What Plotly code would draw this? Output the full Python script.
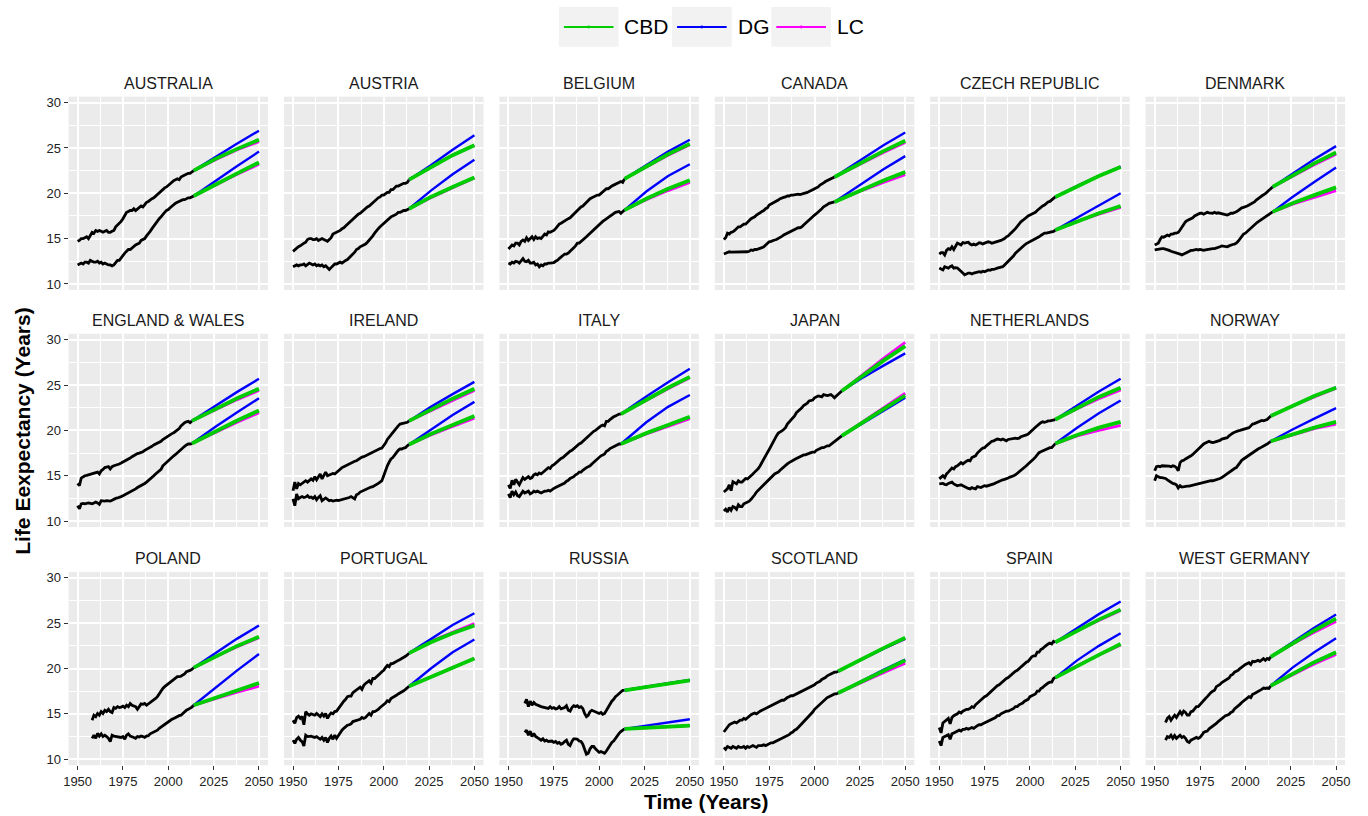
import plotly.graph_objects as go

# ---------------- data ----------------
COUNTRIES = ["AUSTRALIA", "AUSTRIA", "BELGIUM", "CANADA", "CZECH REPUBLIC", "DENMARK",
             "ENGLAND & WALES", "IRELAND", "ITALY", "JAPAN", "NETHERLANDS", "NORWAY",
             "POLAND", "PORTUGAL", "RUSSIA", "SCOTLAND", "SPAIN", "WEST GERMANY"]
FIRST_YEAR = [1950, 1950, 1950, 1950, 1950, 1950, 1950, 1950, 1950, 1950, 1950, 1950,
              1958, 1950, 1959, 1950, 1950, 1956]
FORECAST_YEARS = [2026, 2038, 2050]  # forecast starts at the last observed year

AUS_F = [14.7, 14.8, 15.0, 15.0, 15.1, 15.2, 15.0, 15.4, 15.7, 15.6,
         15.9, 15.8, 15.9, 15.8, 15.7, 15.8, 15.9, 15.7, 15.7, 15.8,
         15.9, 16.3, 16.5, 16.6, 16.9, 17.2, 17.5, 17.9, 18.0, 18.1,
         18.1, 18.3, 18.1, 18.3, 18.4, 18.6, 18.5, 18.8, 19.0, 19.1,
         19.3, 19.4, 19.5, 19.7, 19.8, 20.0, 20.2, 20.4, 20.6, 20.7,
         20.9, 21.0, 21.2, 21.4, 21.5, 21.6, 21.5, 21.8, 21.9, 22.0,
         22.1, 22.2, 22.2, 22.4, 22.5]
AUS_M = [12.1, 12.2, 12.3, 12.2, 12.4, 12.4, 12.3, 12.6, 12.5, 12.4,
         12.4, 12.5, 12.3, 12.4, 12.2, 12.3, 12.2, 12.1, 12.1, 12.0,
         12.1, 12.4, 12.6, 12.6, 12.9, 13.2, 13.4, 13.6, 13.8, 13.8,
         14.0, 14.2, 14.3, 14.4, 14.5, 14.8, 14.9, 15.0, 15.3, 15.5,
         15.8, 16.1, 16.4, 16.6, 16.9, 17.2, 17.4, 17.7, 17.9, 18.1,
         18.2, 18.4, 18.6, 18.7, 18.9, 19.0, 19.1, 19.2, 19.3, 19.3,
         19.4, 19.5, 19.5, 19.6, 19.7]
AUT_F = [13.6, 13.8, 14.0, 14.1, 14.2, 14.4, 14.5, 14.6, 14.9, 15.0,
         15.0, 14.9, 14.9, 15.0, 14.8, 14.9, 15.0, 14.9, 14.8, 14.7,
         14.9, 15.1, 15.5, 15.6, 15.7, 15.8, 15.9, 16.1, 16.2, 16.4,
         16.6, 16.7, 16.9, 17.1, 17.3, 17.5, 17.7, 17.8, 18.0, 18.2,
         18.3, 18.5, 18.6, 18.8, 19.0, 19.1, 19.3, 19.5, 19.6, 19.8,
         19.8, 20.0, 20.1, 20.1, 20.4, 20.4, 20.6, 20.8, 20.8, 20.9,
         21.0, 21.1, 21.1, 21.2, 21.5]
AUT_M = [11.9, 12.0, 12.1, 12.0, 12.1, 12.1, 12.2, 12.0, 12.2, 12.3,
         12.2, 12.1, 12.2, 12.0, 12.1, 12.0, 12.1, 11.9, 12.0, 11.8,
         11.6, 11.8, 12.0, 12.2, 12.2, 12.3, 12.4, 12.3, 12.5, 12.6,
         12.7, 12.9, 13.0, 13.2, 13.5, 13.8, 13.9, 14.1, 14.2, 14.3,
         14.4, 14.6, 14.8, 15.0, 15.3, 15.6, 15.9, 16.1, 16.3, 16.5,
         16.7, 16.9, 17.1, 17.2, 17.4, 17.5, 17.6, 17.7, 17.9, 17.9,
         18.0, 18.1, 18.1, 18.2, 18.3]
BEL_F = [13.85, 14.1, 14.3, 14.2, 14.5, 14.5, 14.3, 14.7, 14.85, 14.7,
         15.1, 14.8, 15.0, 15.2, 14.9, 15.2, 15.0, 15.1, 15.0, 15.2,
         15.5, 15.4, 15.75, 15.7, 15.8, 15.9, 16.1, 16.4, 16.6, 16.7,
         16.85, 16.9, 17.1, 17.2, 17.3, 17.5, 17.7, 17.9, 18.15, 18.3,
         18.5, 18.6, 18.8, 19.05, 19.2, 19.4, 19.5, 19.6, 19.7, 19.8,
         19.8, 20.0, 20.2, 20.35, 20.5, 20.5, 20.7, 20.8, 20.9, 21.0,
         21.1, 21.2, 21.3, 21.2, 21.6]
BEL_M = [12.3, 12.2, 12.4, 12.3, 12.5, 12.45, 12.3, 12.6, 12.8, 12.5,
         12.45, 12.6, 12.3, 12.3, 12.4, 12.1, 12.2, 11.9, 12.1, 12.0,
         12.2, 12.2, 12.3, 12.3, 12.3, 12.35, 12.5, 12.6, 12.8, 13.0,
         13.2, 13.3, 13.3, 13.4, 13.6, 13.75, 14.0, 14.2, 14.5, 14.5,
         14.65, 14.8, 15.0, 15.2, 15.4, 15.6, 15.7, 15.9, 16.1, 16.3,
         16.5, 16.7, 16.9, 17.05, 17.2, 17.4, 17.5, 17.7, 17.8, 17.9,
         17.95, 18.0, 17.8, 18.0, 18.15]
CAN_F = [14.9, 15.1, 15.6, 15.5, 15.7, 15.75, 15.9, 16.1, 16.3, 16.3,
         16.5, 16.6, 16.6, 16.85, 17.0, 17.2, 17.3, 17.4, 17.6, 17.7,
         17.85, 18.0, 18.1, 18.3, 18.4, 18.7, 18.8, 18.9, 19.05, 19.1,
         19.25, 19.4, 19.5, 19.55, 19.6, 19.7, 19.7, 19.8, 19.8, 19.85,
         19.9, 19.9, 19.85, 19.9, 19.95, 20.05, 20.1, 20.2, 20.35, 20.4,
         20.5, 20.6, 20.7, 20.9, 21.0, 21.15, 21.3, 21.4, 21.5, 21.6,
         21.7, 21.8]
CAN_M = [13.3, 13.4, 13.5, 13.55, 13.5, 13.5, 13.55, 13.5, 13.55, 13.5,
         13.5, 13.55, 13.5, 13.55, 13.6, 13.75, 13.7, 13.8, 13.8, 13.85,
         13.9, 14.0, 14.1, 14.3, 14.45, 14.65, 14.7, 14.8, 14.85, 14.9,
         15.0, 15.1, 15.25, 15.4, 15.5, 15.55, 15.7, 15.8, 15.9, 16.0,
         16.1, 16.2, 16.2, 16.3, 16.5, 16.7, 16.85, 17.0, 17.2, 17.4,
         17.6, 17.75, 17.9, 18.1, 18.3, 18.5, 18.6, 18.75, 18.9, 18.95,
         19.0, 19.05]
CZE_F = [13.3, 13.45, 13.45, 13.2, 13.7, 13.9, 13.8, 14.1, 13.8, 14.2,
         14.5, 14.4, 14.3, 14.55, 14.5, 14.55, 14.6, 14.4, 14.3, 14.4,
         14.3, 14.4, 14.55, 14.5, 14.4, 14.5, 14.6, 14.65, 14.6, 14.5,
         14.55, 14.6, 14.65, 14.7, 14.8, 14.9, 15.0, 15.2, 15.3, 15.5,
         15.75, 15.9, 16.1, 16.4, 16.6, 16.85, 17.0, 17.2, 17.3, 17.5,
         17.6, 17.7, 17.8, 17.9, 18.1, 18.3, 18.5, 18.6, 18.7, 18.9,
         19.05, 19.1, 19.25, 19.4, 19.6]
CZE_M = [11.75, 11.6, 11.55, 11.9, 11.8, 11.75, 11.9, 12.0, 11.75, 11.8,
         11.75, 11.6, 11.35, 11.2, 11.0, 11.1, 11.2, 11.2, 11.1, 11.2,
         11.25, 11.3, 11.35, 11.3, 11.4, 11.35, 11.5, 11.55, 11.5, 11.6,
         11.6, 11.7, 11.75, 11.8, 11.85, 11.9, 12.1, 12.3, 12.5, 12.6,
         12.8, 13.1, 13.4, 13.6, 13.75, 13.9, 14.1, 14.3, 14.45, 14.55,
         14.65, 14.8, 14.9, 15.0, 15.1, 15.2, 15.35, 15.5, 15.6, 15.6,
         15.65, 15.7, 15.75, 15.8, 15.95]
DNK_F = [14.3, 14.4, 14.5, 14.9, 15.2, 15.15, 15.3, 15.4, 15.3, 15.5,
         15.5, 15.6, 15.6, 15.7, 15.95, 16.3, 16.5, 16.85, 17.0, 17.1,
         17.2, 17.3, 17.5, 17.6, 17.7, 17.8, 17.8, 17.7, 17.8, 17.9,
         17.85, 17.8, 17.8, 17.9, 17.8, 17.85, 17.8, 17.7, 17.65, 17.6,
         17.6, 17.7, 17.8, 17.8, 17.85, 17.95, 18.1, 18.3, 18.4, 18.45,
         18.5, 18.6, 18.7, 18.8, 18.9, 19.05, 19.25, 19.45, 19.55, 19.7,
         19.8, 19.95, 20.15, 20.3, 20.5, 20.7]
DNK_M = [13.75, 13.8, 13.8, 13.85, 13.9, 13.9, 13.85, 13.8, 13.7, 13.6,
         13.55, 13.5, 13.45, 13.4, 13.3, 13.2, 13.3, 13.45, 13.5, 13.6,
         13.7, 13.7, 13.75, 13.8, 13.75, 13.8, 13.75, 13.7, 13.75, 13.8,
         13.8, 13.85, 13.9, 13.9, 13.95, 14.0, 14.1, 14.2, 14.15, 14.1,
         14.1, 14.2, 14.3, 14.35, 14.4, 14.5, 14.7, 15.0, 15.3, 15.5,
         15.6, 15.8, 15.95, 16.2, 16.35, 16.5, 16.7, 16.85, 17.0, 17.1,
         17.2, 17.4, 17.6, 17.7, 17.85, 17.95]
ENW_F = [14.15, 13.9, 14.75, 14.9, 15.0, 15.05, 15.1, 15.15, 15.25, 15.3,
         15.35, 15.4, 15.2, 15.55, 15.7, 15.9, 15.95, 16.0, 15.75, 16.0,
         16.1, 16.15, 16.2, 16.3, 16.4, 16.5, 16.6, 16.75, 16.85, 16.95,
         17.1, 17.25, 17.4, 17.45, 17.5, 17.55, 17.65, 17.8, 17.9, 18.0,
         18.1, 18.25, 18.4, 18.5, 18.6, 18.65, 18.8, 19.0, 19.15, 19.3,
         19.4, 19.5, 19.65, 19.75, 19.9, 20.0, 20.2, 20.5, 20.7, 20.85,
         20.95, 21.0, 20.85, 21.05]
ENW_M = [11.7, 11.35, 11.9, 11.95, 11.9, 11.95, 12.0, 11.95, 11.9, 12.0,
         12.1, 12.0, 11.85, 12.25, 12.2, 12.2, 12.25, 12.25, 12.2, 12.3,
         12.45, 12.5, 12.55, 12.6, 12.7, 12.8, 12.9, 13.0, 13.1, 13.2,
         13.35, 13.45, 13.55, 13.7, 13.8, 13.9, 14.0, 14.15, 14.3, 14.45,
         14.65, 14.8, 15.0, 15.2, 15.35, 15.55, 15.7, 16.1, 16.3, 16.5,
         16.65, 16.8, 17.0, 17.2, 17.35, 17.55, 17.7, 17.9, 18.1, 18.25,
         18.4, 18.5, 18.5, 18.55]
IRL_F = [13.35, 14.3, 13.55, 14.15, 14.0, 14.15, 14.3, 14.45, 14.3, 14.5,
         14.65, 14.5, 14.9, 14.55, 14.9, 15.2, 14.65, 15.0, 15.4, 15.0,
         15.1, 15.15, 15.25, 15.2, 15.4, 15.55, 15.7, 15.9, 16.0, 16.1,
         16.2, 16.3, 16.45, 16.5, 16.6, 16.65, 16.8, 16.95, 17.05, 17.1,
         17.2, 17.3, 17.4, 17.5, 17.6, 17.75, 17.85, 17.95, 18.0, 18.05,
         18.3, 18.6, 19.0, 19.3, 19.6, 19.75, 20.0, 20.3, 20.5, 20.7,
         20.75, 20.8, 20.85, 20.9, 21.05]
IRL_M = [12.45, 11.7, 13.0, 12.45, 12.6, 12.7, 12.6, 12.65, 12.8, 12.6,
         12.65, 12.5, 12.7, 12.35, 12.6, 12.8, 12.25, 12.4, 12.55, 12.4,
         12.25, 12.3, 12.2, 12.25, 12.3, 12.25, 12.3, 12.35, 12.4, 12.45,
         12.55, 12.6, 12.7, 12.6, 12.45, 12.9, 13.0, 13.2, 13.3, 13.4,
         13.45, 13.55, 13.65, 13.75, 13.8, 13.9, 14.0, 14.15, 14.3, 14.45,
         15.0, 15.6, 16.1, 16.5, 16.85, 17.0, 17.3, 17.55, 17.8, 17.95,
         17.95, 18.05, 18.1, 18.3, 18.45]
ITA_F = [14.0, 13.6, 14.5, 14.0, 14.6, 14.3, 14.0, 14.4, 14.8, 14.6,
         14.8, 14.9, 14.7, 14.8, 15.1, 15.2, 15.1, 15.3, 15.2, 15.4,
         15.5, 15.7, 15.9, 15.8, 16.1, 16.2, 16.4, 16.6, 16.8, 16.9,
         17.0, 17.2, 17.4, 17.5, 17.7, 17.8, 18.0, 18.2, 18.4, 18.5,
         18.6, 18.8, 19.0, 19.2, 19.4, 19.5, 19.7, 19.9, 20.0, 20.2,
         20.3, 20.5, 20.6, 20.5, 21.0, 21.0, 21.2, 21.4, 21.5, 21.6,
         21.7, 21.8, 21.8]
ITA_M = [13.0, 12.6, 13.3, 12.9, 13.2, 12.8, 12.7, 13.0, 13.3, 13.1,
         13.2, 13.3, 13.0, 13.1, 13.3, 13.2, 13.3, 13.2, 13.1, 13.2,
         13.3, 13.3, 13.4, 13.3, 13.5, 13.6, 13.7, 13.8, 13.9, 14.0,
         14.1, 14.2, 14.4, 14.5, 14.7, 14.8, 14.9, 15.1, 15.2, 15.4,
         15.4, 15.6, 15.8, 15.9, 16.0, 16.1, 16.3, 16.5, 16.7, 16.8,
         17.0, 17.2, 17.3, 17.4, 17.7, 17.8, 18.0, 18.1, 18.2, 18.3,
         18.4, 18.5, 18.5]
JPN_F = [13.2, 13.4, 13.55, 14.0, 13.35, 14.35, 14.2, 14.1, 14.45, 14.3,
         14.3, 14.5, 14.7, 14.65, 14.8, 15.0, 15.2, 15.4, 15.55, 15.8,
         16.1, 16.5, 16.85, 17.2, 17.55, 17.9, 18.3, 18.65, 19.0, 19.4,
         19.7, 19.8, 19.95, 20.1, 20.3, 20.7, 20.9, 21.2, 21.4, 21.6,
         21.95, 22.1, 22.3, 22.5, 22.75, 22.85, 23.0, 23.25, 23.3, 23.35,
         23.6, 23.7, 23.8, 23.75, 23.7, 23.95, 23.9, 23.85, 23.9, 23.95,
         23.8, 23.6, 23.8, 23.95, 24.15, 24.35]
JPN_M = [11.1, 11.3, 11.0, 11.5, 11.2, 11.6, 11.5, 11.3, 11.8, 11.6,
         11.6, 11.9, 12.0, 12.1, 12.2, 12.4, 12.6, 12.9, 13.2, 13.4,
         13.6, 13.8, 14.1, 14.3, 14.4, 14.6, 14.8, 15.0, 15.2, 15.3,
         15.4, 15.6, 15.8, 16.0, 16.2, 16.3, 16.45, 16.6, 16.7, 16.8,
         16.9, 17.0, 17.1, 17.2, 17.3, 17.3, 17.4, 17.5, 17.55, 17.6,
         17.6, 17.8, 17.9, 18.0, 18.1, 18.1, 18.2, 18.3, 18.3, 18.45,
         18.6, 18.7, 18.9, 19.0, 19.2, 19.4]
NLD_F = [14.65, 14.8, 15.0, 14.8, 15.2, 15.4, 15.6, 15.85, 15.75, 16.0,
         16.1, 16.3, 16.45, 16.3, 16.5, 16.6, 16.7, 16.65, 17.0, 17.1,
         17.2, 17.5, 17.75, 17.9, 18.05, 18.1, 18.3, 18.5, 18.6, 18.8,
         18.85, 18.95, 19.05, 19.0, 18.95, 19.05, 18.95, 18.85, 19.0, 19.05,
         19.05, 19.1, 19.15, 19.1, 19.15, 19.3, 19.35, 19.4, 19.5, 19.6,
         19.75, 19.95, 20.15, 20.35, 20.55, 20.75, 20.85, 20.95, 20.9, 20.95,
         21.05, 21.05, 21.1, 21.1, 21.2]
NLD_M = [14.1, 14.1, 14.15, 14.05, 14.0, 14.15, 14.2, 14.3, 14.1, 14.0,
         13.9, 13.95, 14.0, 13.9, 13.8, 13.65, 13.6, 13.55, 13.7, 13.6,
         13.55, 13.8, 13.75, 13.7, 13.8, 13.9, 13.85, 13.9, 13.95, 14.0,
         14.1, 14.2, 14.3, 14.4, 14.45, 14.55, 14.6, 14.65, 14.75, 14.85,
         14.9, 15.0, 15.1, 15.25, 15.4, 15.55, 15.7, 15.9, 16.1, 16.3,
         16.45, 16.65, 16.85, 17.05, 17.3, 17.55, 17.65, 17.75, 17.85, 17.95,
         18.05, 18.1, 18.1, 18.3, 18.55]
NOR_F = [15.55, 16.0, 16.05, 16.0, 16.1, 16.1, 16.05, 16.1, 16.05, 16.0,
         16.1, 16.05, 15.9, 15.55, 16.45, 16.65, 16.7, 16.85, 16.95, 17.05,
         17.2, 17.35, 17.55, 17.7, 17.9, 18.1, 18.3, 18.5, 18.6, 18.7,
         18.8, 18.7, 18.65, 18.7, 18.75, 18.8, 18.9, 19.05, 19.1, 19.15,
         19.2, 19.4, 19.6, 19.7, 19.8, 19.9, 19.95, 20.0, 20.05, 20.1,
         20.15, 20.2, 20.3, 20.5, 20.7, 20.75, 20.85, 20.95, 21.0, 21.1,
         21.05, 21.15, 21.2, 21.4, 21.6]
NOR_M = [14.45, 15.0, 14.9, 14.8, 14.8, 14.75, 14.7, 14.55, 14.4, 14.3,
         14.15, 14.1, 14.0, 13.65, 13.9, 13.75, 13.8, 13.8, 13.85, 13.85,
         13.9, 13.95, 14.0, 14.05, 14.1, 14.15, 14.2, 14.3, 14.35, 14.35,
         14.4, 14.45, 14.45, 14.5, 14.6, 14.65, 14.7, 14.8, 14.95, 15.1,
         15.25, 15.4, 15.6, 15.7, 15.8, 15.9, 16.2, 16.45, 16.7, 16.85,
         17.0, 17.1, 17.2, 17.4, 17.55, 17.75, 17.85, 17.95, 18.05, 18.2,
         18.3, 18.4, 18.5, 18.65, 18.8]
POL_F = [14.3, 14.85,
         14.7, 15.05, 14.85, 15.25, 15.05, 15.4, 15.25, 15.5, 15.25, 15.15,
         15.7, 15.6, 15.8, 15.7, 15.75, 15.85, 15.7, 15.95, 15.8, 16.15,
         15.95, 15.9, 15.8, 15.5, 15.8, 16.1, 16.05, 16.15, 15.95, 16.1,
         16.2, 16.3, 16.5, 16.7, 16.9, 17.25, 17.5, 17.8, 18.0, 18.15,
         18.35, 18.5, 18.65, 18.8, 18.9, 19.1, 19.1, 19.15, 19.3, 19.4,
         19.65, 19.7, 19.8, 19.9, 20.1]
POL_M = [12.3, 12.65,
         12.3, 12.85, 12.55, 12.8, 12.5, 12.65, 12.5, 12.3, 11.95, 12.65,
         12.55, 12.5, 12.5, 12.45, 12.4, 12.5, 12.2, 12.65, 12.8, 12.55,
         12.5, 12.4, 12.3, 12.5, 12.45, 12.55, 12.5, 12.4, 12.55, 12.6,
         12.8, 12.9, 13.05, 13.1, 13.2, 13.4, 13.55, 13.75, 13.9, 14.0,
         14.15, 14.25, 14.4, 14.5, 14.6, 14.75, 14.8, 14.85, 15.05, 15.25,
         15.4, 15.5, 15.6, 15.75, 15.95]
PRT_F = [14.3, 13.95, 14.6, 14.75, 14.5, 14.7, 13.8, 15.25, 15.0, 14.85,
         15.0, 14.9, 14.85, 15.05, 14.85, 14.7, 15.0, 14.75, 15.05, 14.5,
         14.85, 15.1, 15.0, 15.25, 15.3, 15.6, 15.9, 16.15, 16.4, 16.6,
         16.9, 16.95, 16.95, 17.35, 17.5, 17.7, 17.85, 17.95, 17.7, 18.15,
         18.35, 18.5, 18.65, 18.4, 18.9, 18.9, 19.05, 19.25, 19.45, 19.65,
         19.8, 20.1, 20.35, 20.2, 20.55, 20.55, 20.7, 20.85, 20.9, 21.0,
         21.1, 21.2, 21.35, 21.5, 21.7]
PRT_M = [12.1, 11.75, 12.2, 12.4, 12.1, 11.95, 11.45, 12.65, 12.5, 12.5,
         12.55, 12.45, 12.4, 12.5, 12.3, 12.2, 12.4, 12.1, 12.4, 11.85,
         12.3, 12.55, 12.2, 12.65, 12.3, 12.65, 12.9, 13.2, 13.4, 13.6,
         13.75, 13.8, 13.9, 14.15, 14.2, 14.3, 14.35, 14.4, 14.6, 14.5,
         14.6, 14.8, 15.05, 14.85, 15.25, 15.25, 15.35, 15.5, 15.7, 15.85,
         15.95, 16.2, 16.45, 16.35, 16.7, 16.8, 16.9, 17.05, 17.2, 17.3,
         17.45, 17.55, 17.7, 17.85, 18.05]
RUS_F = [16.15,
         16.6, 15.8, 16.4, 15.95, 16.25, 16.05, 15.95, 15.9, 15.8, 15.75,
         15.7, 15.65, 15.6, 15.8, 15.6, 15.7, 15.55, 15.6, 15.8, 15.55,
         15.6, 15.7, 15.9, 15.4, 15.3, 15.7, 15.9, 15.8, 15.9, 15.7,
         15.8, 15.6, 15.05, 14.7, 14.85, 15.25, 15.4, 15.3, 15.25, 15.15,
         15.05, 15.15, 14.95, 15.05, 15.4, 15.8, 16.15, 16.4, 16.6, 16.9,
         17.05, 17.25, 17.5, 17.6, 17.6]
RUS_M = [12.95,
         13.2, 12.65, 13.1, 12.5, 12.85, 12.5, 12.4, 12.25, 12.1, 12.25,
         12.0, 12.1, 11.95, 11.95, 12.0, 11.85, 11.95, 11.75, 11.85, 11.65,
         11.75, 11.95, 12.1, 11.65, 11.5, 11.95, 12.25, 12.25, 12.2, 12.0,
         11.95, 11.65, 11.0, 10.55, 10.65, 11.15, 11.4, 11.4, 11.15, 10.9,
         10.75, 10.85, 10.75, 10.65, 10.9, 11.2, 11.6, 11.85, 12.0, 12.3,
         12.5, 12.85, 13.05, 13.2, 13.35]
SCO_F = [13.0, 13.3, 13.6, 13.8, 13.9, 14.0, 14.1, 14.0, 14.2, 14.3,
         14.3, 14.5, 14.4, 14.6, 14.8, 14.9, 15.0, 15.1, 15.0, 15.2,
         15.3, 15.4, 15.5, 15.6, 15.7, 15.8, 15.9, 16.0, 16.1, 16.2,
         16.3, 16.4, 16.5, 16.5, 16.7, 16.8, 16.9, 17.0, 17.0, 17.1,
         17.2, 17.3, 17.4, 17.5, 17.6, 17.7, 17.8, 17.9, 18.0, 18.1,
         18.2, 18.4, 18.5, 18.6, 18.8, 18.9, 19.0, 19.2, 19.3, 19.4,
         19.5, 19.6, 19.6, 19.7]
SCO_M = [11.3, 11.1, 11.4, 11.3, 11.2, 11.4, 11.3, 11.2, 11.4, 11.3,
         11.3, 11.4, 11.2, 11.4, 11.3, 11.4, 11.5, 11.4, 11.3, 11.5,
         11.5, 11.5, 11.6, 11.5, 11.6, 11.7, 11.8, 11.8, 11.9, 12.0,
         12.1, 12.2, 12.3, 12.4, 12.5, 12.6, 12.7, 12.9, 13.0, 13.2,
         13.3, 13.5, 13.7, 13.9, 14.1, 14.3, 14.6, 14.8, 15.0, 15.2,
         15.5, 15.7, 15.9, 16.1, 16.3, 16.5, 16.6, 16.8, 16.9, 17.0,
         17.1, 17.2, 17.2, 17.3]
ESP_F = [13.5, 12.9, 14.0, 14.2, 14.3, 14.5, 13.9, 14.6, 14.8, 14.9,
         15.0, 15.2, 15.1, 15.3, 15.4, 15.5, 15.5, 15.6, 15.8, 15.7,
         16.0, 16.2, 16.4, 16.5, 16.7, 16.9, 17.0, 17.2, 17.4, 17.6,
         17.8, 17.9, 18.1, 18.2, 18.4, 18.5, 18.7, 18.9, 19.0, 19.2,
         19.3, 19.5, 19.7, 19.8, 20.0, 20.2, 20.4, 20.6, 20.7, 20.8,
         21.1, 21.3, 21.4, 21.4, 21.8, 21.8, 22.1, 22.2, 22.4, 22.6,
         22.7, 22.8, 22.7, 23.0, 22.9]
ESP_M = [12.0, 11.5, 12.4, 12.5, 12.6, 12.7, 12.2, 12.8, 12.9, 13.0,
         13.1, 13.2, 13.1, 13.3, 13.3, 13.4, 13.3, 13.4, 13.5, 13.4,
         13.6, 13.7, 13.8, 13.8, 13.9, 14.0, 14.1, 14.2, 14.3, 14.4,
         14.5, 14.6, 14.8, 14.8, 15.0, 15.1, 15.2, 15.3, 15.3, 15.4,
         15.5, 15.6, 15.8, 15.8, 16.0, 16.1, 16.2, 16.4, 16.5, 16.6,
         16.9, 17.0, 17.1, 17.2, 17.5, 17.5, 17.8, 17.9, 18.1, 18.3,
         18.4, 18.5, 18.5, 18.9, 19.0]
DEW_F = [14.05, 14.5, 14.7, 14.3,
         14.6, 14.85, 14.6, 14.95, 15.25, 14.95, 15.3, 15.15, 14.85, 14.85,
         15.25, 15.3, 15.55, 15.8, 15.8, 16.05, 16.25, 16.5, 16.7, 16.9,
         17.15, 17.35, 17.5, 17.6, 18.0, 18.1, 18.25, 18.45, 18.6, 18.7,
         18.9, 18.95, 19.25, 19.35, 19.6, 19.7, 19.8, 20.0, 20.2, 20.3,
         20.45, 20.55, 20.65, 20.45, 20.8, 20.75, 20.8, 20.9, 20.8, 21.0,
         21.1, 20.9, 21.1, 21.0, 21.3]
DEW_M = [12.1, 12.5, 12.4, 12.65,
         12.3, 12.6, 12.3, 12.5, 12.65, 12.4, 12.5, 12.3, 11.95, 11.85,
         12.1, 12.2, 12.3, 12.4, 12.3, 12.4, 12.65, 12.95, 13.05, 13.1,
         13.35, 13.5, 13.6, 13.7, 13.95, 14.15, 14.3, 14.5, 14.7, 14.8,
         14.85, 14.95, 15.15, 15.25, 15.55, 15.7, 15.8, 16.05, 16.25, 16.4,
         16.65, 16.8, 16.9, 16.8, 17.15, 17.25, 17.35, 17.5, 17.6, 17.7,
         17.85, 17.8, 17.85, 17.8, 18.1]

HIST_FEMALE = [AUS_F, AUT_F, BEL_F, CAN_F, CZE_F, DNK_F, ENW_F, IRL_F, ITA_F,
               JPN_F, NLD_F, NOR_F, POL_F, PRT_F, RUS_F, SCO_F, ESP_F, DEW_F]
HIST_MALE = [AUS_M, AUT_M, BEL_M, CAN_M, CZE_M, DNK_M, ENW_M, IRL_M, ITA_M,
             JPN_M, NLD_M, NOR_M, POL_M, PRT_M, RUS_M, SCO_M, ESP_M, DEW_M]

# forecasts at FORECAST_YEARS, one row per country (same order as COUNTRIES)
CBD_FEMALE = [[23.8, 24.9, 25.9], [22.9, 24.2, 25.3], [22.9, 24.3, 25.45], [23.45, 24.65, 25.8],
              [20.8, 21.9, 22.9], [22.0, 23.3, 24.5], [22.4, 23.55, 24.6], [22.3, 23.5, 24.6],
              [23.4, 24.7, 25.9], [26.0, 27.7, 29.3], [22.5, 23.7, 24.7], [22.7, 23.8, 24.7],
              [21.3, 22.5, 23.5], [22.9, 23.9, 24.75], [18.0, 18.35, 18.7], [21.05, 22.25, 23.4],
              [24.2, 25.4, 26.5], [22.8, 24.2, 25.5]]
DG_FEMALE = [[24.0, 25.5, 26.9], [23.1, 24.8, 26.4], [23.1, 24.6, 25.9], [23.8, 25.3, 26.7],
             [20.8, 21.9, 22.95], [22.2, 23.75, 25.2], [22.75, 24.25, 25.7], [22.6, 24.0, 25.35],
             [23.75, 25.3, 26.8], [25.75, 27.15, 28.5], [22.8, 24.3, 25.7], [22.7, 23.8, 24.75],
             [21.7, 23.3, 24.75], [23.3, 24.8, 26.1], [18.0, 18.4, 18.75], [21.0, 22.2, 23.3],
             [24.5, 26.0, 27.4], [22.9, 24.5, 25.95]]
LC_FEMALE = [[23.7, 24.8, 25.7], [22.9, 24.2, 25.3], [22.9, 24.2, 25.35], [23.35, 24.5, 25.6],
             [20.8, 21.9, 22.9], [21.9, 23.15, 24.3], [22.3, 23.4, 24.4], [22.2, 23.3, 24.4],
             [23.35, 24.6, 25.8], [26.1, 27.95, 29.7], [22.4, 23.5, 24.45], [22.7, 23.7, 24.65],
             [21.3, 22.4, 23.4], [23.0, 24.0, 24.95], [18.0, 18.35, 18.7], [21.0, 22.2, 23.3],
             [24.2, 25.3, 26.4], [22.7, 24.0, 25.2]]
CBD_MALE = [[21.0, 22.2, 23.4], [19.6, 20.7, 21.75], [19.4, 20.5, 21.45], [20.4, 21.4, 22.35],
            [16.9, 17.8, 18.6], [18.9, 19.8, 20.65], [19.9, 21.1, 22.2], [19.6, 20.6, 21.6],
            [19.7, 20.6, 21.5], [20.85, 22.35, 23.85], [19.5, 20.3, 20.95], [19.6, 20.3, 20.95],
            [16.8, 17.6, 18.4], [19.1, 20.1, 21.1], [13.5, 13.6, 13.7], [18.6, 19.75, 20.9],
            [20.3, 21.5, 22.7], [19.4, 20.7, 21.8]]
DG_MALE = [[21.4, 23.0, 24.6], [20.3, 22.1, 23.7], [20.2, 21.9, 23.2], [21.1, 22.65, 24.1],
           [17.3, 18.7, 20.0], [19.6, 21.25, 22.85], [20.4, 22.0, 23.55], [20.1, 21.7, 23.15],
           [20.9, 22.6, 23.9], [20.75, 22.2, 23.6], [20.3, 21.9, 23.3], [20.1, 21.3, 22.45],
           [17.9, 19.8, 21.6], [20.0, 21.8, 23.2], [13.7, 14.1, 14.4], [18.65, 19.85, 21.0],
           [20.9, 22.5, 23.9], [20.1, 21.8, 23.35]]
LC_MALE = [[20.9, 22.1, 23.2], [19.5, 20.6, 21.7], [19.3, 20.3, 21.2], [20.3, 21.2, 22.05],
           [16.9, 17.7, 18.45], [18.8, 19.55, 20.3], [19.8, 20.9, 21.95], [19.5, 20.45, 21.35],
           [19.6, 20.45, 21.3], [20.9, 22.5, 24.1], [19.4, 20.0, 20.55], [19.5, 20.2, 20.7],
           [16.7, 17.4, 18.05], [19.1, 20.1, 21.1], [13.5, 13.6, 13.7], [18.5, 19.55, 20.6],
           [20.3, 21.5, 22.6], [19.3, 20.5, 21.55]]

MODELS = ["CBD", "DG", "LC"]
MODEL_COLORS = {"CBD": "#00CD00", "DG": "#0000FF", "LC": "#FF00FF"}
MODEL_WIDTHS = {"CBD": 3.8, "DG": 2.4, "LC": 2.8}
X_TICKS = [1950, 1975, 2000, 2025, 2050]
X_MINOR = [1962.5, 1987.5, 2012.5, 2037.5]
Y_TICKS = [10, 15, 20, 25, 30]
Y_MINOR = [12.5, 17.5, 22.5, 27.5]

# ---------------- figure ----------------
W, H = 1368, 816
LEFTS = [64, 281, 498, 715, 932, 1149]
PW = 201
TOPS = [96, 334, 573]
PH = 194
FONT = "Liberation Sans, Arial, Helvetica, sans-serif"

fig = go.Figure()
layout = {}
annotations = []

for i, name in enumerate(COUNTRIES):
    r, c = divmod(i, 6)
    k = "" if i == 0 else str(i + 1)
    xref, yref = "x" + k, "y" + k
    x0 = LEFTS[c]
    y0 = TOPS[r]
    layout["xaxis" + k] = dict(
        domain=[x0 / W, (x0 + PW) / W], range=[1945, 2055], anchor=yref,
        tickmode="array", tickvals=X_TICKS, ticktext=[str(v) for v in X_TICKS],
        showticklabels=(r == 2), ticks="outside" if r == 2 else "",
        ticklen=4, tickwidth=1, tickcolor="#333333",
        tickfont=dict(size=13, color="#222222", family=FONT),
        showgrid=True, gridcolor="white", gridwidth=1.6, zeroline=False, showline=False,
        minor=dict(tickmode="array", tickvals=X_MINOR, showgrid=True, gridcolor="white", gridwidth=0.8),
        fixedrange=True)
    layout["yaxis" + k] = dict(
        domain=[1 - (y0 + PH) / H, 1 - y0 / H], range=[9.34, 30.66], anchor=xref,
        tickmode="array", tickvals=Y_TICKS, ticktext=[str(v) for v in Y_TICKS],
        showticklabels=(c == 0), ticks="outside" if c == 0 else "",
        ticklen=4, tickwidth=1, tickcolor="#333333",
        tickfont=dict(size=13, color="#222222", family=FONT),
        showgrid=True, gridcolor="white", gridwidth=1.6, zeroline=False, showline=False,
        minor=dict(tickmode="array", tickvals=Y_MINOR, showgrid=True, gridcolor="white", gridwidth=0.8),
        fixedrange=True)
    annotations.append(dict(text=name, xref="paper", yref="paper",
                            x=(x0 + PW / 2) / W, y=1 - (y0 - 13) / H,
                            xanchor="center", yanchor="middle", showarrow=False,
                            font=dict(size=16, color="#1A1A1A", family=FONT)))

    start = FIRST_YEAR[i]
    for hist, tables in ((HIST_FEMALE[i], (CBD_FEMALE, DG_FEMALE, LC_FEMALE)),
                         (HIST_MALE[i], (CBD_MALE, DG_MALE, LC_MALE))):
        years = list(range(start, start + len(hist)))
        fig.add_trace(go.Scatter(x=years, y=hist, mode="lines", xaxis=xref, yaxis=yref,
                                 line=dict(color="black", width=2.8), showlegend=False,
                                 hoverinfo="skip"))
        fyears = [years[-1]] + FORECAST_YEARS
        cbd_t, dg_t, lc_t = tables
        for model, tab in (("LC", lc_t), ("DG", dg_t), ("CBD", cbd_t)):
            fig.add_trace(go.Scatter(x=fyears, y=[hist[-1]] + tab[i], mode="lines",
                                     xaxis=xref, yaxis=yref,
                                     line=dict(color=MODEL_COLORS[model], width=MODEL_WIDTHS[model]),
                                     showlegend=False, hoverinfo="skip"))

# axis titles
annotations.append(dict(text="<b>Time (Years)</b>", xref="paper", yref="paper",
                        x=(LEFTS[0] + LEFTS[-1] + PW) / 2 / W, y=1 - 803 / H,
                        xanchor="center", yanchor="middle", showarrow=False,
                        font=dict(size=21, color="black", family=FONT)))
annotations.append(dict(text="<b>Life Eexpectancy (Years)</b>", xref="paper", yref="paper",
                        x=18 / W, y=1 - (TOPS[0] + TOPS[-1] + PH) / 2 / H, textangle=-90,
                        xanchor="center", yanchor="middle", showarrow=False,
                        font=dict(size=21, color="black", family=FONT)))

# legend (ggplot-style keys at the top)
shapes = []
LEG_BOX_X = [558, 672, 772]
LEG_BOX_W = 60
for m, bx in zip(MODELS, LEG_BOX_X):
    shapes.append(dict(type="rect", xref="paper", yref="paper",
                       x0=bx / W, x1=(bx + LEG_BOX_W) / W, y0=1 - 46 / H, y1=1 - 6 / H,
                       fillcolor="#F2F2F2", line=dict(width=0), layer="above"))
    shapes.append(dict(type="line", xref="paper", yref="paper",
                       x0=(bx + 5) / W, x1=(bx + LEG_BOX_W - 5) / W, y0=1 - 26 / H, y1=1 - 26 / H,
                       line=dict(color=MODEL_COLORS[m], width=2), layer="above"))
    shapes.append(dict(type="circle", xref="paper", yref="paper",
                       x0=(bx + 28.5) / W, x1=(bx + 31.5) / W, y0=1 - 27.5 / H, y1=1 - 24.5 / H,
                       fillcolor=MODEL_COLORS[m], line=dict(width=0), layer="above"))
    annotations.append(dict(text=m, xref="paper", yref="paper",
                            x=(bx + LEG_BOX_W + 4) / W, y=1 - 26 / H,
                            xanchor="left", yanchor="middle", showarrow=False,
                            font=dict(size=21, color="black", family=FONT)))

fig.update_layout(**layout)
fig.update_layout(width=W, height=H, autosize=False,
                  margin=dict(l=0, r=0, t=0, b=0),
                  paper_bgcolor="white", plot_bgcolor="#EBEBEB",
                  showlegend=False, annotations=annotations, shapes=shapes,
                  font=dict(family=FONT))

fig.write_html("out.html", include_plotlyjs=True, config={"displayModeBar": False})
